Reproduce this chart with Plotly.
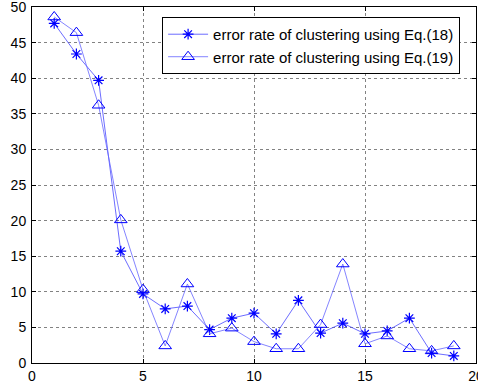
import plotly.graph_objects as go

x_vals = list(range(1, 20))
eq18 = [47.7, 43.4, 39.7, 15.7, 9.7, 7.6, 8.0, 4.7, 6.3, 7.0, 4.1, 8.8, 4.2, 5.6, 4.1, 4.5, 6.3, 1.4, 1.0]
eq19 = [48.6, 46.4, 36.2, 20.1, 10.3, 2.4, 11.1, 4.1, 4.9, 3.0, 2.0, 2.0, 5.4, 13.9, 2.7, 3.8, 2.0, 1.7, 2.4]
names = ["error rate of clustering using Eq.(18)", "error rate of clustering using Eq.(19)"]
x_ticks = [0, 5, 10, 15, 20]
y_ticks = [0, 5, 10, 15, 20, 25, 30, 35, 40, 45, 50]

fig = go.Figure()
fig.add_trace(go.Scatter(
    x=x_vals, y=eq18, name=names[0], mode="lines+markers",
    line=dict(color="rgb(70,70,255)", width=0.8),
    marker=dict(symbol="asterisk-open", size=9, color="blue", line=dict(color="blue", width=1.2)),
))
fig.add_trace(go.Scatter(
    x=x_vals, y=eq19, name=names[1], mode="lines+markers",
    line=dict(color="rgb(100,100,255)", width=0.8),
    marker=dict(symbol="triangle-up-open", size=11, color="blue", line=dict(color="blue", width=1)),
))

axis_common = dict(
    showline=True, linecolor="black", linewidth=1, mirror="ticks",
    ticks="inside", ticklen=4, tickcolor="black",
    showgrid=True, gridcolor="rgb(130,130,130)", griddash="dot", gridwidth=1,
    zeroline=False, ticklabeloverflow="allow", automargin=False,
    tickfont=dict(family="Liberation Sans, Arial", size=14, color="black"),
)
fig.update_xaxes(range=[0, 20], tickvals=x_ticks, ticktext=[str(v) for v in x_ticks], **axis_common)
fig.update_yaxes(range=[0, 50], tickvals=y_ticks, ticktext=[str(v) for v in y_ticks], ticklabelstandoff=2, **axis_common)

fig.update_layout(
    width=478, height=385,
    margin=dict(l=32, r=2, t=7, b=22, autoexpand=False),
    paper_bgcolor="white", plot_bgcolor="white",
    showlegend=True,
    legend=dict(
        x=0.293, y=0.972, xanchor="left", yanchor="top",
        bgcolor="white", bordercolor="black", borderwidth=1,
        font=dict(family="Liberation Sans, Arial", size=15, color="black"),
        tracegroupgap=0, itemwidth=40,
    ),
)

fig.write_html("out.html", config={"displayModeBar": False},
               post_script="document.body.style.margin='0';")
